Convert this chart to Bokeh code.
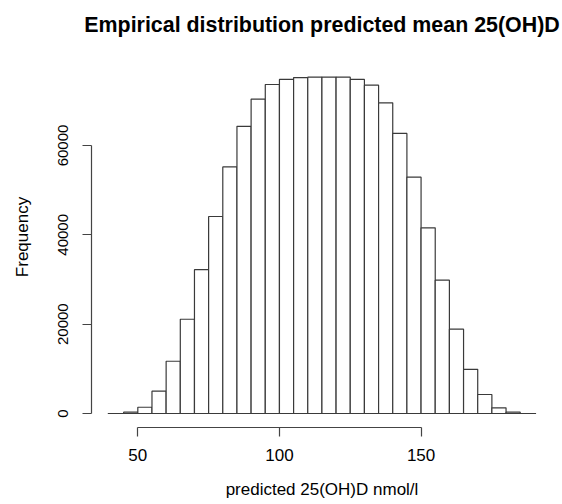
from bokeh.plotting import figure
from bokeh.models import Range1d, FixedTicker
from bokeh.embed import file_html
from bokeh.resources import INLINE

# bin edges (nmol/l) and frequencies
bin_left = [45, 50, 55, 60, 65, 70, 75, 80, 85, 90, 95, 100, 105, 110,
            115, 120, 125, 130, 135, 140, 145, 150, 155, 160, 165, 170, 175, 180]
bin_right = [b + 5 for b in bin_left]
counts = [300, 1400, 5000, 11700, 21100, 32200, 44100, 55200, 64300, 70400, 73650, 74800, 75200, 75300,
          75300, 75300, 74800, 73500, 69550, 62700, 52900, 41570, 29850, 18870, 9900, 4250, 1280, 300]
x_ticks = [50, 100, 150]
y_ticks = [0, 20000, 40000, 60000]
title_text = "Empirical distribution predicted mean 25(OH)D"
x_title = "predicted 25(OH)D nmol/l"
y_title = "Frequency"

FONT = "Liberation Sans"
X0, X1 = 33.65, 196.4
Y0, Y1 = -3134, 82160

p = figure(width=562, height=504, output_backend="svg", toolbar_location=None,
           x_range=Range1d(X0, X1), y_range=Range1d(Y0, Y1),
           min_border_left=91, min_border_right=10, min_border_top=46, min_border_bottom=77)

p.title.text = title_text
p.title.align = "center"
p.title.text_font = FONT
p.title.text_font_size = "21.4px"
p.title.text_font_style = "bold"
p.title.text_color = "#000000"
p.title.standoff = 20

p.quad(left=bin_left, right=bin_right, top=counts, bottom=0,
       fill_color="white", line_color="#3a3a3a", line_width=1.2)

span = bin_right[-1] - bin_left[0]
p.segment(x0=[bin_left[0] - 0.04 * span], x1=[bin_right[-1] + 0.04 * span], y0=[0], y1=[0],
          line_color="#3a3a3a", line_width=1.2)

p.xgrid.visible = False
p.ygrid.visible = False
p.outline_line_color = None

for ax in (p.xaxis[0], p.yaxis[0]):
    ax.axis_line_color = "#444444"
    ax.axis_line_width = 1.2
    ax.major_tick_line_color = "#444444"
    ax.major_tick_line_width = 1.2
    ax.major_tick_out = 9
    ax.major_tick_in = 0
    ax.minor_tick_line_color = None
    ax.major_label_text_font = FONT
    ax.major_label_text_color = "#000000"
    ax.axis_label_text_font = FONT
    ax.axis_label_text_font_style = "normal"
    ax.axis_label_text_color = "#000000"

xa = p.xaxis[0]
xa.ticker = FixedTicker(ticks=x_ticks)
xa.bounds = (x_ticks[0], x_ticks[-1])
xa.axis_label = x_title
xa.major_label_text_font_size = "17px"
xa.axis_label_text_font_size = "17px"
xa.major_label_standoff = 12
xa.axis_label_standoff = 16

ya = p.yaxis[0]
ya.ticker = FixedTicker(ticks=y_ticks)
ya.bounds = (y_ticks[0], y_ticks[-1])
ya.axis_label = y_title
ya.major_label_text_font_size = "15px"
ya.axis_label_text_font_size = "17px"
ya.major_label_orientation = "vertical"
ya.major_label_standoff = 14
ya.axis_label_standoff = 24
ya.formatter.use_scientific = False

open("out.html", "w").write(file_html(p, INLINE))
